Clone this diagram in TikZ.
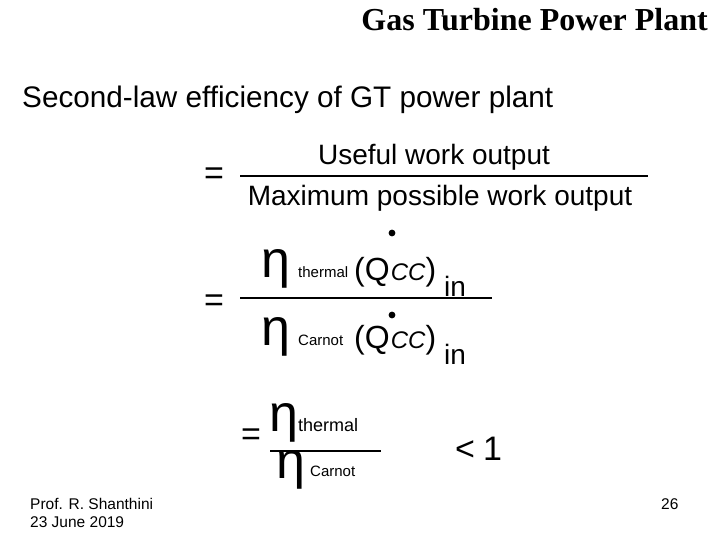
\documentclass[tikz,border=0pt]{standalone}
\usepackage{fontspec}
\setmainfont{Liberation Sans}
\newfontfamily\serifb{Liberation Serif}
\begin{document}
\begin{tikzpicture}[x=1pt,y=-1pt,
  t/.style={inner sep=0pt,anchor=base west},
  big/.style={t,font=\fontsize{28}{30}\selectfont},
  eqs/.style={t,font=\fontsize{34}{36}\selectfont},
  eta/.style={t,font=\fontsize{52}{54}\selectfont},
  sm/.style={t,font=\fontsize{15}{17}\selectfont},
  ft/.style={t,font=\fontsize{15.5}{17}\selectfont},
  qq/.style={t,font=\fontsize{32}{34}\selectfont},
  fr/.style={line width=2.6pt}]
\useasboundingbox (0,0) rectangle (720,540);
\node[t,anchor=base east,font=\serifb\bfseries\fontsize{32}{34}\selectfont] (title) at (708,31) {Gas Turbine Power Plant};
\node[t,font=\fontsize{29.7}{32}\selectfont] (sub) at (22,108) {Second-law efficiency of GT power plant};
% first fraction
\node[eqs] (e1) at (204,185) {=};
\coordinate (l1a) at (240,176); \coordinate (l1b) at (648,176);
\draw[fr] (l1a) -- (l1b);
\node[big,anchor=base] (num1) at (434,165) {Useful work output};
\node[big,anchor=base] (den1) at (440,206) {Maximum possible work output};
% second fraction
\node[eqs] (e2) at (204,311) {=};
\coordinate (l2a) at (240,298); \coordinate (l2b) at (492,298);
\draw[fr] (l2a) -- (l2b);
\node[eta] (n2) at (261,277) {η};
\node[sm] (n2s) at (298,277) {thermal};
\node[qq] (n2q) at (354,280) {(Q\kern1pt\textit{\fontsize{24}{26}\selectfont CC})};
\node[big] (n2in) at (444,296) {in};
\fill (392,233) circle (3.4pt);
\node[eta] (d2) at (261,345) {η};
\node[sm] (d2s) at (298,345) {Carnot};
\node[qq] (d2q) at (354,348) {(Q\kern1pt\textit{\fontsize{24}{26}\selectfont CC})};
\node[big] (d2in) at (444,364) {in};
\fill (392,315) circle (3.4pt);
% third fraction
\node[eqs] (e3) at (241,445) {=};
\coordinate (l3a) at (270,451); \coordinate (l3b) at (381,451);
\draw[fr] (l3a) -- (l3b);
\node[eta] (n3) at (269,431) {η};
\node[t,font=\fontsize{18}{20}\selectfont] (n3s) at (298,431) {thermal};
\node[eta] (d3) at (276,478) {η};
\node[sm] (d3s) at (310,476) {Carnot};
\node[t,font=\fontsize{34}{36}\selectfont] (lt) at (455,460) {<\kern8pt 1};
% footer
\node[ft] (f1) at (30,509) {Prof. R. Shanthini};
\node[ft] (f2) at (30,527) {23 June 2019};
\node[ft] (pg) at (661,509) {26};
\end{tikzpicture}
\end{document}
